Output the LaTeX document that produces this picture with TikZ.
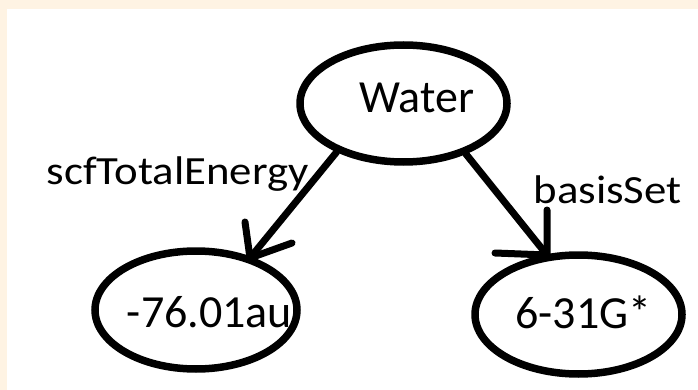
\documentclass[tikz,border=0pt]{standalone}
\usepackage{fontspec}
\setmainfont{Carlito}
\usetikzlibrary{shapes.geometric}
\definecolor{cream}{HTML}{FEF3E3}
\newcommand{\widetext}[1]{\scalebox{1.12}[1]{#1}}
\tikzset{
  oval/.style={draw=black, line width=7.5pt, ellipse, inner sep=0pt},
  nodetext/.style={anchor=base, inner sep=0pt, font=\fontsize{46}{50}\selectfont},
  edgelabel/.style={anchor=base, inner sep=0pt, font=\fontsize{40}{44}\selectfont},
  link/.style={draw=black, line width=7pt, line cap=round, line join=round}
}
\begin{document}
\begin{tikzpicture}[x=1pt, y=-1pt]
  % page: cream frame with white sheet
  \useasboundingbox (0,0) rectangle (698,390);
  \fill[cream] (0,0) rectangle (698,390);
  \fill[white] (7,9) rectangle (698,390);

  % ellipses
  \node[oval, minimum width=207pt, minimum height=117pt] (water) at (403.5,103.5) {};
  \node[oval, minimum width=202pt, minimum height=118pt] (energy) at (196,310) {};
  \node[oval, minimum width=207pt, minimum height=119pt] (basis) at (578.5,314.5) {};

  % texts inside the ellipses
  \node[nodetext] (waterText) at (417,113) {Water};
  \node[nodetext] (energyText) at (209.5,327) {-76.01au};
  \node[nodetext] (basisText) at (583.5,328) {6-31G*};

  % arrow tips and the ends of their strokes
  \coordinate (tipL) at (250,258);
  \coordinate (armLa) at (245,222);
  \coordinate (armLb) at (292,243);
  \coordinate (tipR) at (547,255);
  \coordinate (armRa) at (547,210);
  \coordinate (armRb) at (495,253);

  % connectors
  \path[link] (water.216) -- (tipL);
  \path[link] (armLa) -- (tipL) -- (armLb);
  \path[link] (water.321) -- (tipR);
  \path[link] (armRa) -- (tipR) -- (armRb);

  % edge labels
  \node[edgelabel] (lblEnergy) at (177.5,184) {\widetext{scfTotalEnergy}};
  \node[edgelabel] (lblBasis) at (607.5,203) {\widetext{basisSet}};
\end{tikzpicture}
\end{document}
